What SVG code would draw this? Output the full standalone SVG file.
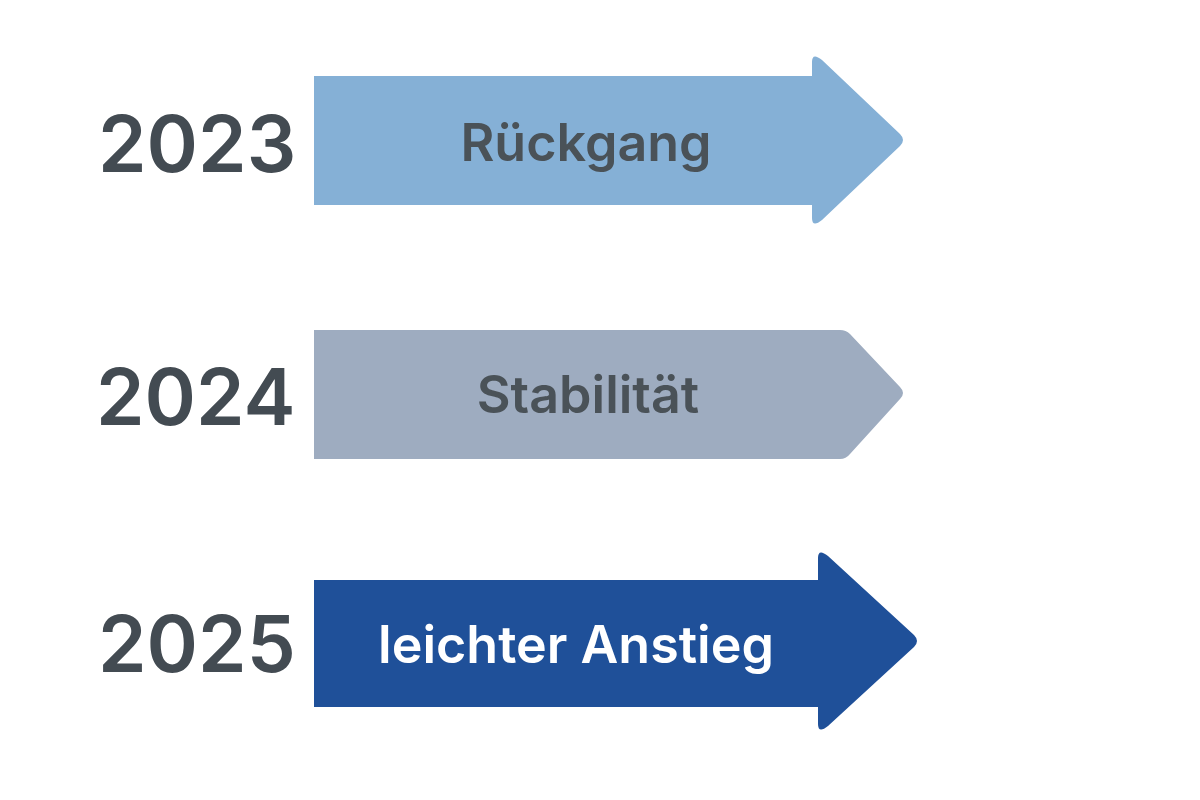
<svg xmlns="http://www.w3.org/2000/svg" width="1200" height="800" viewBox="0 0 1200 800">
<style>
.yr{font-family:Inter,"Open Sans",sans-serif;font-weight:600;font-size:78px;fill:#434b52}
.lb{font-family:Inter,"Open Sans",sans-serif;font-weight:600;font-size:52px;fill:#4a5258;text-anchor:middle}
</style>
<rect width="1200" height="800" fill="#fff"/>
<g id="node2023">
<text class="yr" x="98" y="172">2023</text>
<path d="M314,76 H812 V62 Q812,52 822,60 L900,134 Q906,140 900,146 L822,220 Q812,228 812,218 V205 H314 Z" fill="#85b0d6"/>
<text class="lb" x="586" y="161">Rückgang</text>
</g>
<g id="node2024">
<text class="yr" x="96" y="425">2024</text>
<path d="M314,330 H840 Q846,330 850,334 L900,387 Q906,393 900,399 L850,454 Q846,459 840,459 H314 Z" fill="#9eacc0"/>
<text class="lb" x="588" y="413">Stabilität</text>
</g>
<g id="node2025">
<text class="yr" x="98" y="672">2025</text>
<path d="M314,580 H818 V558 Q818,548 828,556 L914,635 Q920,641 914,647 L828,726 Q818,734 818,724 V707 H314 Z" fill="#1f5099"/>
<text class="lb" x="576" y="663" style="fill:#fff">leichter Anstieg</text>
</g>
<g id="connectors"/>
</svg>
